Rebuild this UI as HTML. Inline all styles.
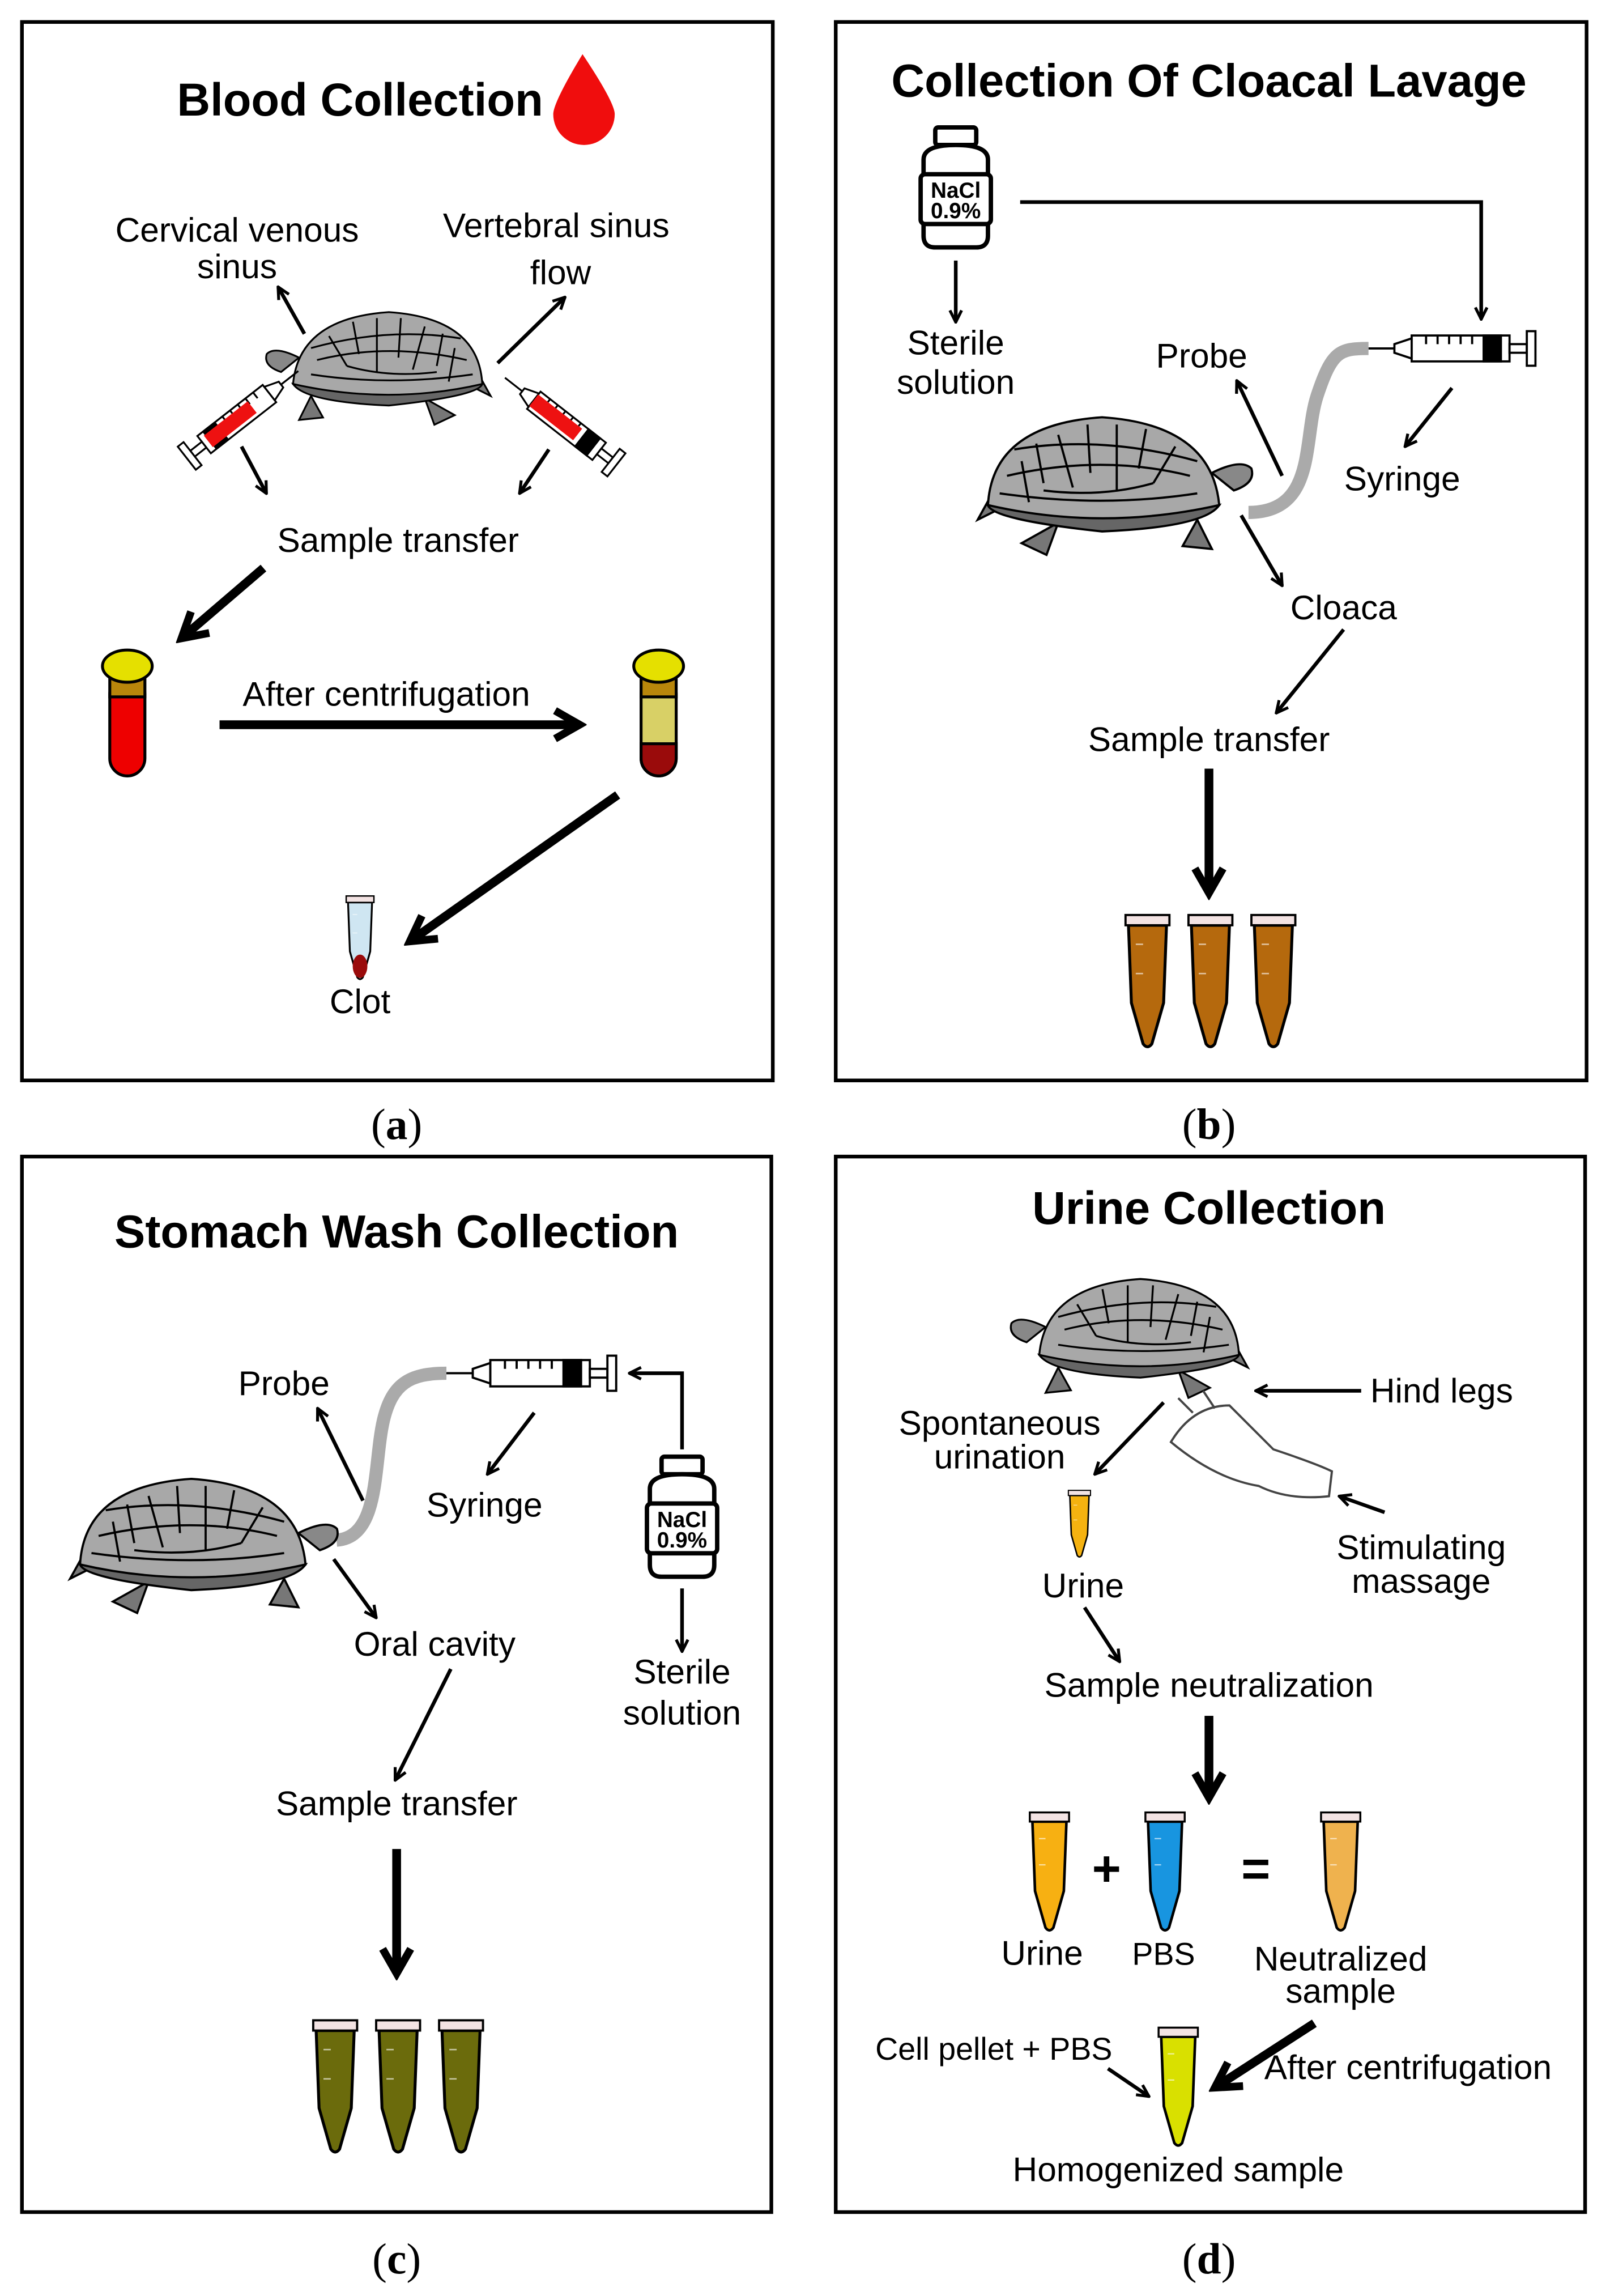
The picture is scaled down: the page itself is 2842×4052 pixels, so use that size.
<!DOCTYPE html>
<html><head><meta charset="utf-8"><style>
html,body{margin:0;padding:0;background:#fff;}
svg{display:block;}
text{font-family:"Liberation Sans",sans-serif;fill:#000;}
.t{font-weight:bold;font-size:31.5px;text-anchor:middle;}
.l{font-size:23.4px;text-anchor:middle;}
.s{font-size:21.5px;text-anchor:middle;}
.p{font-family:"Liberation Serif",serif;font-size:30px;text-anchor:middle;}
.a{stroke:#000;stroke-width:2.5;fill:none;marker-end:url(#ah);}
.A{stroke:#000;stroke-width:6;fill:none;marker-end:url(#AH);}
.box{fill:none;stroke:#000;stroke-width:2.5;}
</style></head><body>
<svg width="2842" height="4052" viewBox="0 0 1100 1568.3" xmlns="http://www.w3.org/2000/svg">
<defs>
<marker id="ah" viewBox="0 0 10 10" refX="9" refY="5" markerWidth="4" markerHeight="4" orient="auto"><path d="M1,1 L9,5 L1,9" fill="none" stroke="#000" stroke-width="2"/></marker>
<marker id="AH" viewBox="0 0 10 10" refX="8" refY="5" markerWidth="4" markerHeight="4" orient="auto"><path d="M1,1 L8,5 L1,9" fill="none" stroke="#000" stroke-width="2.2"/></marker>
<symbol id="tube" viewBox="-16 0 32 95" overflow="visible">
<path d="M-13,7 L13,7 L11,60 L3,88 Q0,92 -3,88 L-11,60 Z" stroke="#000" stroke-width="2"/>
<rect x="-15" y="0" width="30" height="7" fill="#f3e3e3" stroke="#000" stroke-width="1.5"/>
<line x1="-8" y1="20" x2="-3" y2="20" stroke="#fff" stroke-width="1" opacity=".6"/>
<line x1="-8" y1="40" x2="-3" y2="40" stroke="#fff" stroke-width="1" opacity=".6"/>
</symbol>
<symbol id="turtle" viewBox="0 0 200 110" overflow="visible">
<g stroke="#000" stroke-width="1.5" fill="#fff">
<path d="M20,60 Q5,55 8,45 Q15,38 35,48 Z" fill="#888"/>
<path d="M45,80 L35,100 L55,98 Z" fill="#777"/>
<path d="M140,82 L148,104 L165,96 Z" fill="#777"/>
<path d="M175,70 L195,80 L185,62 Z" fill="#777"/>
<path d="M30,70 Q35,15 110,10 Q185,15 188,70 Q110,92 30,70 Z" fill="#a8a8a8"/>
<path d="M30,70 Q110,88 188,70 Q185,80 110,88 Q40,85 30,70Z" fill="#666"/>
<path d="M60,30 L75,55 M100,15 L100,60 M140,22 L130,58 M50,50 Q110,35 175,50 M75,55 Q110,65 150,60 M165,40 L160,68 M45,40 Q110,22 170,32 M80,18 L85,45 M120,15 L118,48 M155,28 L150,55" fill="none"/>
<path d="M45,62 Q110,72 180,62" fill="none"/>
</g>
</symbol>
<symbol id="syringe" viewBox="0 0 120 26" overflow="visible">
<g stroke="#000" stroke-width="1.5" fill="#fff">
<line x1="0" y1="13" x2="18" y2="13"/>
<path d="M18,10 L30,6 L30,20 L18,16Z"/>
<rect x="30" y="4" width="68" height="18"/>
<rect x="80" y="4" width="12" height="18" fill="#000"/>
<rect x="98" y="10" width="12" height="6"/>
<rect x="110" y="1" width="6" height="24"/>
<path d="M40,4 v6 M48,4 v6 M56,4 v6 M64,4 v6 M72,4 v6" fill="none"/>
</g>
</symbol>
<symbol id="bottle" viewBox="0 0 60 86" overflow="visible">
<g stroke="#000" stroke-width="3" fill="#fff">
<rect x="16" y="2" width="28" height="12" rx="2"/>
<path d="M8,24 Q8,14 30,14 Q52,14 52,24 L52,76 Q52,84 44,84 L16,84 Q8,84 8,76Z"/>
<rect x="6" y="34" width="48" height="34" rx="3"/>
</g>
<text x="30" y="50" style="font-size:15px;font-weight:bold;text-anchor:middle">NaCl</text>
<text x="30" y="64" style="font-size:15px;font-weight:bold;text-anchor:middle">0.9%</text>
</symbol>
</defs>
<rect width="1100" height="1568.3" fill="#fff"/>

<!-- Panel a -->
<rect class="box" x="15" y="15" width="513" height="723"/>
<text class="t" x="246" y="79">Blood Collection</text>
<path d="M398,37 Q420,70 420,78 A21,21 0 0 1 378,78 Q378,70 398,37Z" fill="#f00d0d"/>
<text class="l" x="162" y="165">Cervical venous</text>
<text class="l" x="162" y="190">sinus</text>
<text class="l" x="380" y="162">Vertebral sinus</text>
<text class="l" x="383" y="194">flow</text>
<path class="a" d="M208,228 L190,196"/>
<path class="a" d="M340,248 L386,203"/>
<use href="#turtle" x="170" y="205" width="175" height="90"/>
<g transform="translate(125,315) rotate(-38)"><use href="#syringe" x="0" y="-13" width="100" height="26" transform="scale(-1,1) translate(-100,0)"/><rect x="22" y="-5" width="38" height="10" fill="#e11"/></g>
<g transform="translate(345,258) rotate(38)"><use href="#syringe" x="0" y="-13" width="100" height="26"/><rect x="25" y="-5" width="38" height="10" fill="#e11"/></g>
<path class="a" d="M165,305 L182,337"/>
<path class="a" d="M375,307 L355,337"/>
<text class="l" x="272" y="377">Sample transfer</text>
<path class="A" d="M180,388 L124,436"/>
<g stroke="#000" stroke-width="2"><rect x="75" y="462" width="24" height="68" rx="12" fill="#e00"/><rect x="75" y="462" width="24" height="14" fill="#b8860b"/><ellipse cx="87" cy="455" rx="17" ry="11" fill="#e5e000"/></g>
<text class="l" x="264" y="482">After centrifugation</text>
<path class="A" d="M150,495 L396,495"/>
<g stroke="#000" stroke-width="2"><rect x="438" y="462" width="24" height="68" rx="12" fill="#d8d066"/><rect x="438" y="462" width="24" height="14" fill="#b8860b"/><path d="M438,508 h24 v10 a12,12 0 0 1 -24,0z" fill="#9a0b0b"/><ellipse cx="450" cy="455" rx="17" ry="11" fill="#e5e000"/></g>
<path class="A" d="M422,543 L280,643"/>
<use href="#tube" x="234" y="612" width="24" height="60" style="fill:#cfe6f2" preserveAspectRatio="none"/>
<ellipse cx="246" cy="660" rx="5" ry="8" fill="#9a0b0b"/>
<text class="l" x="246" y="692">Clot</text>

<!-- Panel b -->
<rect class="box" x="571" y="15" width="513" height="723"/>
<text class="t" x="826" y="66">Collection Of Cloacal Lavage</text>
<use href="#bottle" x="623" y="85" width="60" height="86"/>
<path class="a" d="M697,138 L1012,138 L1012,218"/>
<path class="a" d="M653,178 L653,220"/>
<text class="l" x="653" y="242">Sterile</text>
<text class="l" x="653" y="269">solution</text>
<use href="#syringe" x="935" y="225" width="118" height="26"/>
<path d="M853,350 C900,350 890,300 900,270 C910,240 915,238 935,238" stroke="#aaa" stroke-width="9" fill="none"/>
<text class="l" x="821" y="251">Probe</text>
<path class="a" d="M876,325 L845,260"/>
<text class="l" x="958" y="335">Syringe</text>
<path class="a" d="M992,265 L960,305"/>
<use href="#turtle" x="663" y="275" width="200" height="110" transform="scale(-1,1) translate(-1526,0)"/>
<path class="a" d="M848,352 L876,400"/>
<text class="l" x="918" y="423">Cloaca</text>
<path class="a" d="M918,430 L872,487"/>
<text class="l" x="826" y="513">Sample transfer</text>
<path class="A" d="M826,525 L826,610"/>
<use href="#tube" x="768" y="625" width="32" height="95" style="fill:#b5690d"/>
<use href="#tube" x="811" y="625" width="32" height="95" style="fill:#b5690d"/>
<use href="#tube" x="854" y="625" width="32" height="95" style="fill:#b5690d"/>

<!-- Panel c -->
<rect class="box" x="15" y="790" width="512" height="721"/>
<text class="t" x="271" y="852">Stomach Wash Collection</text>
<use href="#syringe" x="305" y="925" width="120" height="26"/>
<path d="M230,1052 C260,1050 255,1000 262,970 C268,945 280,938 305,938" stroke="#aaa" stroke-width="9" fill="none"/>
<text class="l" x="194" y="953">Probe</text>
<path class="a" d="M248,1025 L217,962"/>
<text class="l" x="331" y="1036">Syringe</text>
<path class="a" d="M365,965 L333,1007"/>
<path class="a" d="M466,990 L466,938 L430,938"/>
<use href="#bottle" x="436" y="993" width="60" height="86"/>
<path class="a" d="M466,1085 L466,1128"/>
<text class="l" x="466" y="1150">Sterile</text>
<text class="l" x="466" y="1178">solution</text>
<use href="#turtle" x="43" y="993" width="195" height="122" transform="scale(-1,1) translate(-281,0)"/>
<path class="a" d="M228,1065 L257,1105"/>
<text class="l" x="297" y="1131">Oral cavity</text>
<path class="a" d="M308,1140 L270,1216"/>
<text class="l" x="271" y="1240">Sample transfer</text>
<path class="A" d="M271,1263 L271,1348"/>
<use href="#tube" x="213" y="1380" width="32" height="95" style="fill:#6b6b0c"/>
<use href="#tube" x="256" y="1380" width="32" height="95" style="fill:#6b6b0c"/>
<use href="#tube" x="299" y="1380" width="32" height="95" style="fill:#6b6b0c"/>

<!-- Panel d -->
<rect class="box" x="571" y="790" width="512" height="721"/>
<text class="t" x="826" y="836">Urine Collection</text>
<use href="#turtle" x="668" y="865" width="205" height="95"/>
<text class="l" x="985" y="958">Hind legs</text>
<path class="a" d="M930,950 L858,950"/>
<text class="l" x="683" y="980">Spontaneous</text>
<text class="l" x="683" y="1003">urination</text>
<path class="a" d="M795,958 L748,1007"/>
<path d="M800,985 Q815,960 840,960 L870,990 Q900,1000 910,1005 L908,1022 Q880,1025 860,1015 Q830,1010 800,985Z M815,965 L805,955 M830,962 L822,950" fill="#fff" stroke="#444" stroke-width="1.5"/>
<path class="a" d="M946,1033 L915,1022"/>
<text class="l" x="971" y="1065">Stimulating</text>
<text class="l" x="971" y="1088">massage</text>
<use href="#tube" x="729" y="1018" width="17" height="48" style="fill:#f5b210" preserveAspectRatio="none"/>
<text class="l" x="740" y="1091">Urine</text>
<path class="a" d="M741,1098 L765,1135"/>
<text class="l" x="826" y="1159">Sample neutralization</text>
<path class="A" d="M826,1172 L826,1228"/>
<use href="#tube" x="701" y="1238" width="32" height="85" style="fill:#f7b012" preserveAspectRatio="none"/>
<use href="#tube" x="780" y="1238" width="32" height="85" style="fill:#1895e0" preserveAspectRatio="none"/>
<use href="#tube" x="900" y="1238" width="32" height="85" style="fill:#efb24e" preserveAspectRatio="none"/>
<text x="756" y="1288" style="font-size:34px;font-weight:bold;text-anchor:middle">+</text>
<text x="858" y="1288" style="font-size:34px;font-weight:bold;text-anchor:middle">=</text>
<text class="l" x="712" y="1342">Urine</text>
<text class="s" x="795" y="1342">PBS</text>
<text class="l" x="916" y="1346">Neutralized</text>
<text class="l" x="916" y="1368">sample</text>
<text class="s" x="679" y="1407">Cell pellet + PBS</text>
<path class="a" d="M757,1413 L785,1432"/>
<use href="#tube" x="789" y="1385" width="32" height="85" style="fill:#d9e000" preserveAspectRatio="none"/>
<path class="A" d="M898,1382 L830,1426"/>
<text class="l" x="962" y="1420">After centrifugation</text>
<text class="l" x="805" y="1490">Homogenized sample</text>

<text class="p" x="271" y="778">(<tspan font-weight="bold">a</tspan>)</text>
<text class="p" x="826" y="778">(<tspan font-weight="bold">b</tspan>)</text>
<text class="p" x="271" y="1553">(<tspan font-weight="bold">c</tspan>)</text>
<text class="p" x="826" y="1553">(<tspan font-weight="bold">d</tspan>)</text>
</svg>
</body></html>
